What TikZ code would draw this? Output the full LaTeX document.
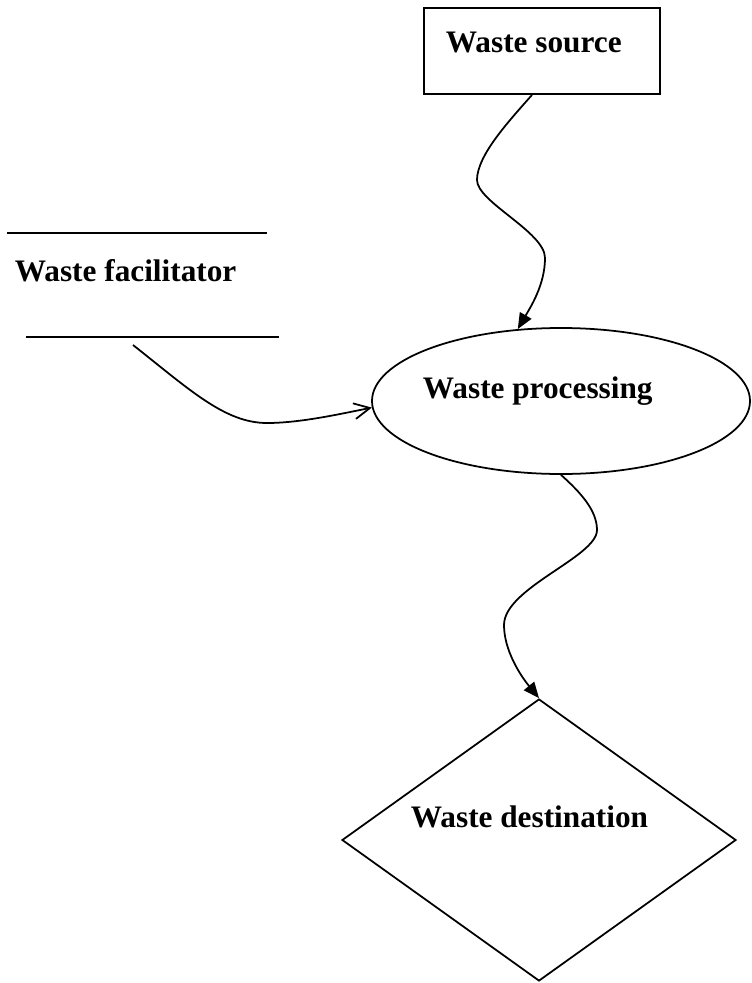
\documentclass[tikz,border=0pt]{standalone}
\usepackage{fontspec}
\setmainfont{Liberation Serif}
\usepackage{tikz}
\usetikzlibrary{arrows.meta,shapes.geometric,positioning}

\begin{document}
\begin{tikzpicture}
		[x=0.2mm, y=-0.2mm, line width=1pt, inner sep=0pt,
		label/.style	= {anchor=base west, font=\bfseries\fontsize{17.8}{20}\selectfont},
		sourcebox/.style	= {rectangle, draw, minimum width=47.2mm, minimum height=17.2mm},
		process/.style	= {ellipse, draw, minimum width=75.6mm, minimum height=29.2mm},
		sink/.style	= {diamond, draw, minimum width=78.8mm, minimum height=56.4mm},
		flow/.style	= {-{Triangle[length=9pt,width=7.5pt]}},
		feed/.style	= {-{Straight Barb[length=9pt,width=9pt]}}]
		
		\useasboundingbox (0, 0) rectangle (751, 983);
		
		\node at (542, 51)		[sourcebox]	(src)	{};
		\node at (561, 401)		[process]	(proc)	{};
		\node at (539, 840)		[sink]		(dest)	{};
		
		\node at (445, 53)		[label]		(srctxt)	{Waste source};
		\node at (422, 398)		[label]		(proctxt)	{Waste processing};
		\node at (410, 827)		[label]		(desttxt)	{Waste destination};
		\node at (14, 281)		[label]		(factxt)	{Waste facilitator};
		
		\coordinate (f1) at (7, 233);
		\coordinate (f2) at (267, 233);
		\coordinate (f3) at (26, 337);
		\coordinate (f4) at (279, 337);
		\coordinate (fstart) at (133, 345);
		
		\draw (f1) -- (f2);
		\draw (f3) -- (f4);
		
		\draw [flow] ([xshift=-2mm]src.south) .. controls (510, 120) and (477, 155) .. (477, 180)
			.. controls (477, 202) and (545, 232) .. (545, 258)
			.. controls (545, 285) and (530, 308) .. (proc.121);
		
		\draw [feed] (fstart) .. controls (190, 390) and (225, 423) .. (267, 423)
			.. controls (300, 423) and (340, 414) .. (proc.182);
		
		\draw [flow] (proc.south) .. controls (580, 492) and (597, 510) .. (597, 530)
			.. controls (597, 557) and (504, 588) .. (504, 625)
			.. controls (504, 650) and (520, 675) .. (dest.north);
		
\end{tikzpicture}
\end{document}
